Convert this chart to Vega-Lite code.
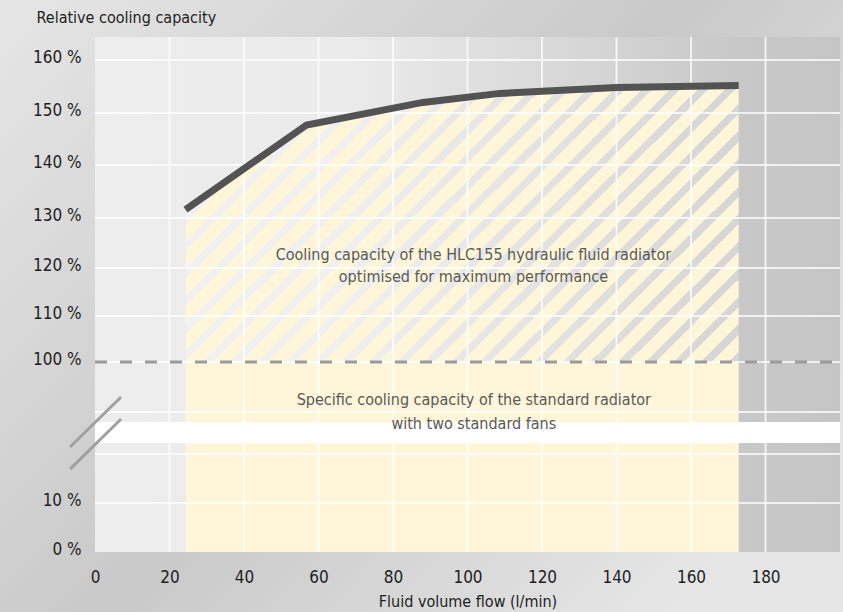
{
  "$schema": "https://vega.github.io/schema/vega-lite/v6.json",
  "autosize": {"type": "none"},
  "padding": {"left": 95, "top": 37, "right": 3, "bottom": 60},
  "width": 745,
  "height": 515,
  "config": {
    "background": "#d5d5d5",
    "view": {"stroke": null},
    "font": "Liberation Sans Narrow, DejaVu Sans Condensed, Roboto, sans-serif"
  },
  "datasets": {
    "curve": [
      {"flow": 24.3, "capacity": 131.6},
      {"flow": 56.8, "capacity": 147.7},
      {"flow": 88, "capacity": 152.0},
      {"flow": 108.7, "capacity": 153.7},
      {"flow": 140, "capacity": 154.8},
      {"flow": 172.8, "capacity": 155.2}
    ],
    "vgrid": [{"g": 20}, {"g": 40}, {"g": 60}, {"g": 80}, {"g": 100}, {"g": 120}, {"g": 140}, {"g": 160}, {"g": 180}],
    "hgrid": [{"g": 10}, {"g": 20}, {"g": 50}, {"g": 100}, {"g": 110}, {"g": 120}, {"g": 130}, {"g": 140}, {"g": 150}, {"g": 160}],
    "one": [{}]
  },
  "layer": [
    {
      "data": {"name": "one"},
      "mark": {"type": "rect", "color": {"gradient": "linear", "x1": 0, "y1": 0, "x2": 1, "y2": 0.7, "stops": [{"offset": 0, "color": "#e6e6e6"}, {"offset": 0.55, "color": "#c9c9c9"}, {"offset": 1, "color": "#e6e6e6"}]}},
      "encoding": {
        "x": {"datum": -25.6, "type": "quantitative"},
        "x2": {"datum": 201},
        "y": {"datum": -13, "type": "quantitative"},
        "y2": {"datum": 172}
      }
    },
    {
      "data": {"name": "one"},
      "mark": {"type": "rect", "color": {"gradient": "linear", "x1": 0, "y1": 0, "x2": 1, "y2": 0, "stops": [{"offset": 0, "color": "#ededed"}, {"offset": 0.34, "color": "#ebebeb"}, {"offset": 0.86, "color": "#c8c8c8"}, {"offset": 1, "color": "#c5c5c5"}]}},
      "encoding": {
        "x": {"datum": 0, "type": "quantitative"},
        "x2": {"datum": 200},
        "y": {"datum": 0, "type": "quantitative"},
        "y2": {"datum": 164.3}
      }
    },
    {
      "data": {"name": "curve"},
      "mark": {"type": "area", "color": "#fff5d8"},
      "encoding": {
        "x": {"field": "flow", "type": "quantitative"},
        "y": {"datum": 100, "type": "quantitative"},
        "y2": {"datum": 0}
      }
    },
    {
      "data": {"name": "curve"},
      "mark": {"type": "area", "color": {"gradient": "linear", "x1": 0, "y1": 0, "x2": 1.1997, "y2": 0.6026, "stops": [
        {"offset": 0, "color": "#fff5d8"}, {"offset": 0.021, "color": "#fff5d8"}, {"offset": 0.021, "color": "rgba(255,255,255,0.25)"}, {"offset": 0.0333, "color": "rgba(255,255,255,0.25)"},
        {"offset": 0.0333, "color": "#fff5d8"}, {"offset": 0.0543, "color": "#fff5d8"}, {"offset": 0.0543, "color": "rgba(255,255,255,0.25)"}, {"offset": 0.0667, "color": "rgba(255,255,255,0.25)"},
        {"offset": 0.0667, "color": "#fff5d8"}, {"offset": 0.0877, "color": "#fff5d8"}, {"offset": 0.0877, "color": "rgba(255,255,255,0.25)"}, {"offset": 0.1, "color": "rgba(255,255,255,0.25)"},
        {"offset": 0.1, "color": "#fff5d8"}, {"offset": 0.121, "color": "#fff5d8"}, {"offset": 0.121, "color": "rgba(255,255,255,0.25)"}, {"offset": 0.1333, "color": "rgba(255,255,255,0.25)"},
        {"offset": 0.1333, "color": "#fff5d8"}, {"offset": 0.1543, "color": "#fff5d8"}, {"offset": 0.1543, "color": "rgba(255,255,255,0.25)"}, {"offset": 0.1667, "color": "rgba(255,255,255,0.25)"},
        {"offset": 0.1667, "color": "#fff5d8"}, {"offset": 0.1877, "color": "#fff5d8"}, {"offset": 0.1877, "color": "rgba(255,255,255,0.25)"}, {"offset": 0.2, "color": "rgba(255,255,255,0.25)"},
        {"offset": 0.2, "color": "#fff5d8"}, {"offset": 0.221, "color": "#fff5d8"}, {"offset": 0.221, "color": "rgba(255,255,255,0.25)"}, {"offset": 0.2333, "color": "rgba(255,255,255,0.25)"},
        {"offset": 0.2333, "color": "#fff5d8"}, {"offset": 0.2543, "color": "#fff5d8"}, {"offset": 0.2543, "color": "rgba(255,255,255,0.25)"}, {"offset": 0.2667, "color": "rgba(255,255,255,0.25)"},
        {"offset": 0.2667, "color": "#fff5d8"}, {"offset": 0.2877, "color": "#fff5d8"}, {"offset": 0.2877, "color": "rgba(255,255,255,0.25)"}, {"offset": 0.3, "color": "rgba(255,255,255,0.25)"},
        {"offset": 0.3, "color": "#fff5d8"}, {"offset": 0.321, "color": "#fff5d8"}, {"offset": 0.321, "color": "rgba(255,255,255,0.25)"}, {"offset": 0.3333, "color": "rgba(255,255,255,0.25)"},
        {"offset": 0.3333, "color": "#fff5d8"}, {"offset": 0.3543, "color": "#fff5d8"}, {"offset": 0.3543, "color": "rgba(255,255,255,0.25)"}, {"offset": 0.3667, "color": "rgba(255,255,255,0.25)"},
        {"offset": 0.3667, "color": "#fff5d8"}, {"offset": 0.3877, "color": "#fff5d8"}, {"offset": 0.3877, "color": "rgba(255,255,255,0.25)"}, {"offset": 0.4, "color": "rgba(255,255,255,0.25)"},
        {"offset": 0.4, "color": "#fff5d8"}, {"offset": 0.421, "color": "#fff5d8"}, {"offset": 0.421, "color": "rgba(255,255,255,0.25)"}, {"offset": 0.4333, "color": "rgba(255,255,255,0.25)"},
        {"offset": 0.4333, "color": "#fff5d8"}, {"offset": 0.4543, "color": "#fff5d8"}, {"offset": 0.4543, "color": "rgba(255,255,255,0.25)"}, {"offset": 0.4667, "color": "rgba(255,255,255,0.25)"},
        {"offset": 0.4667, "color": "#fff5d8"}, {"offset": 0.4877, "color": "#fff5d8"}, {"offset": 0.4877, "color": "rgba(255,255,255,0.25)"}, {"offset": 0.5, "color": "rgba(255,255,255,0.25)"},
        {"offset": 0.5, "color": "#fff5d8"}, {"offset": 0.521, "color": "#fff5d8"}, {"offset": 0.521, "color": "rgba(255,255,255,0.25)"}, {"offset": 0.5333, "color": "rgba(255,255,255,0.25)"},
        {"offset": 0.5333, "color": "#fff5d8"}, {"offset": 0.5543, "color": "#fff5d8"}, {"offset": 0.5543, "color": "rgba(255,255,255,0.25)"}, {"offset": 0.5667, "color": "rgba(255,255,255,0.25)"},
        {"offset": 0.5667, "color": "#fff5d8"}, {"offset": 0.5877, "color": "#fff5d8"}, {"offset": 0.5877, "color": "rgba(255,255,255,0.25)"}, {"offset": 0.6, "color": "rgba(255,255,255,0.25)"},
        {"offset": 0.6, "color": "#fff5d8"}, {"offset": 0.621, "color": "#fff5d8"}, {"offset": 0.621, "color": "rgba(255,255,255,0.25)"}, {"offset": 0.6333, "color": "rgba(255,255,255,0.25)"},
        {"offset": 0.6333, "color": "#fff5d8"}, {"offset": 0.6543, "color": "#fff5d8"}, {"offset": 0.6543, "color": "rgba(255,255,255,0.25)"}, {"offset": 0.6667, "color": "rgba(255,255,255,0.25)"},
        {"offset": 0.6667, "color": "#fff5d8"}, {"offset": 0.6877, "color": "#fff5d8"}, {"offset": 0.6877, "color": "rgba(255,255,255,0.25)"}, {"offset": 0.7, "color": "rgba(255,255,255,0.25)"},
        {"offset": 0.7, "color": "#fff5d8"}, {"offset": 0.721, "color": "#fff5d8"}, {"offset": 0.721, "color": "rgba(255,255,255,0.25)"}, {"offset": 0.7333, "color": "rgba(255,255,255,0.25)"},
        {"offset": 0.7333, "color": "#fff5d8"}, {"offset": 0.7543, "color": "#fff5d8"}, {"offset": 0.7543, "color": "rgba(255,255,255,0.25)"}, {"offset": 0.7667, "color": "rgba(255,255,255,0.25)"},
        {"offset": 0.7667, "color": "#fff5d8"}, {"offset": 0.7877, "color": "#fff5d8"}, {"offset": 0.7877, "color": "rgba(255,255,255,0.25)"}, {"offset": 0.8, "color": "rgba(255,255,255,0.25)"},
        {"offset": 0.8, "color": "#fff5d8"}, {"offset": 0.821, "color": "#fff5d8"}, {"offset": 0.821, "color": "rgba(255,255,255,0.25)"}, {"offset": 0.8333, "color": "rgba(255,255,255,0.25)"},
        {"offset": 0.8333, "color": "#fff5d8"}, {"offset": 0.8543, "color": "#fff5d8"}, {"offset": 0.8543, "color": "rgba(255,255,255,0.25)"}, {"offset": 0.8667, "color": "rgba(255,255,255,0.25)"},
        {"offset": 0.8667, "color": "#fff5d8"}, {"offset": 0.8877, "color": "#fff5d8"}, {"offset": 0.8877, "color": "rgba(255,255,255,0.25)"}, {"offset": 0.9, "color": "rgba(255,255,255,0.25)"},
        {"offset": 0.9, "color": "#fff5d8"}, {"offset": 0.921, "color": "#fff5d8"}, {"offset": 0.921, "color": "rgba(255,255,255,0.25)"}, {"offset": 0.9333, "color": "rgba(255,255,255,0.25)"},
        {"offset": 0.9333, "color": "#fff5d8"}, {"offset": 0.9543, "color": "#fff5d8"}, {"offset": 0.9543, "color": "rgba(255,255,255,0.25)"}, {"offset": 0.9667, "color": "rgba(255,255,255,0.25)"},
        {"offset": 0.9667, "color": "#fff5d8"}, {"offset": 0.9877, "color": "#fff5d8"}, {"offset": 0.9877, "color": "rgba(255,255,255,0.25)"}, {"offset": 1, "color": "rgba(255,255,255,0.25)"}
      ]}},
      "encoding": {
        "x": {"field": "flow", "type": "quantitative"},
        "y": {"field": "capacity", "type": "quantitative"},
        "y2": {"datum": 100}
      }
    },
    {
      "data": {"name": "vgrid"},
      "mark": {"type": "rule", "color": "#ffffff", "strokeWidth": 2, "opacity": 0.75},
      "encoding": {
        "x": {"field": "g", "type": "quantitative"},
        "y": {"datum": 0, "type": "quantitative"},
        "y2": {"datum": 164.3}
      }
    },
    {
      "data": {"name": "hgrid"},
      "mark": {"type": "rule", "color": "#ffffff", "strokeWidth": 2, "opacity": 0.75},
      "encoding": {
        "x": {"datum": 0, "type": "quantitative"},
        "x2": {"datum": 200},
        "y": {"field": "g", "type": "quantitative"}
      }
    },
    {
      "data": {"name": "one"},
      "mark": {"type": "rect", "color": "#ffffff"},
      "encoding": {
        "x": {"datum": 0, "type": "quantitative"},
        "x2": {"datum": 200},
        "y": {"datum": 30, "type": "quantitative"},
        "y2": {"datum": 40}
      }
    },
    {
      "data": {"name": "one"},
      "mark": {"type": "rule", "color": "#9b9b9b", "strokeWidth": 3, "strokeDash": [12, 13]},
      "encoding": {
        "x": {"datum": 0, "type": "quantitative"},
        "x2": {"datum": 200},
        "y": {"datum": 100, "type": "quantitative"}
      }
    },
    {
      "data": {"name": "one"},
      "mark": {"type": "rule", "color": "#a0a0a0", "strokeWidth": 3},
      "encoding": {
        "x": {"datum": -6.7, "type": "quantitative"},
        "x2": {"datum": 7},
        "y": {"datum": 26.4, "type": "quantitative"},
        "y2": {"datum": 65}
      }
    },
    {
      "data": {"name": "one"},
      "mark": {"type": "rule", "color": "#a0a0a0", "strokeWidth": 3},
      "encoding": {
        "x": {"datum": -6.7, "type": "quantitative"},
        "x2": {"datum": 7},
        "y": {"datum": 16.9, "type": "quantitative"},
        "y2": {"datum": 43}
      }
    },
    {
      "data": {"name": "curve"},
      "mark": {"type": "line", "color": "#535353", "strokeWidth": 7, "strokeJoin": "miter"},
      "encoding": {
        "x": {
          "field": "flow", "type": "quantitative",
          "scale": {"domain": [0, 200], "nice": false, "zero": false},
          "axis": {
            "values": [0, 20, 40, 60, 80, 100, 120, 140, 160, 180],
            "grid": false, "domain": false, "ticks": false, "zindex": 1, "labelFlush": false,
            "labelPadding": 17, "labelFontSize": 17, "labelColor": "#1e1e1e",
            "title": "Fluid volume flow (l/min)", "titleFontSize": 16, "titleFontWeight": "normal",
            "titleColor": "#1e1e1e", "titlePadding": 8
          }
        },
        "y": {
          "field": "capacity", "type": "quantitative",
          "scale": {
            "domain": [0, 10, 20, 30, 40, 50, 100, 110, 120, 130, 140, 150, 160, 164.3],
            "range": [515, 466, 417, 406, 385, 375, 325, 279, 231, 181, 128, 76, 23, 0],
            "nice": false, "zero": false
          },
          "axis": {
            "values": [0, 10, 100, 110, 120, 130, 140, 150, 160],
            "labelExpr": "datum.value + ' %'",
            "grid": false, "domain": false, "ticks": false, "zindex": 1, "labelFlush": false,
            "labelPadding": 14, "labelFontSize": 17, "labelColor": "#1e1e1e",
            "labelOverlap": false, "labelOffset": -3,
            "title": "Relative cooling capacity", "titleAngle": 0, "titleAlign": "left",
            "titleBaseline": "middle", "titleX": -59, "titleY": -20,
            "titleFontSize": 16, "titleFontWeight": "normal", "titleColor": "#1e1e1e"
          }
        }
      }
    },
    {
      "data": {"name": "one"},
      "mark": {"type": "text", "text": ["Cooling capacity of the HLC155 hydraulic fluid radiator", "optimised for maximum performance"], "fontSize": 16, "lineHeight": 22, "color": "#595959", "align": "center", "baseline": "middle"},
      "encoding": {
        "x": {"datum": 101.6, "type": "quantitative"},
        "y": {"datum": 122.6, "type": "quantitative"}
      }
    },
    {
      "data": {"name": "one"},
      "mark": {"type": "text", "text": ["Specific cooling capacity of the standard radiator", "with two standard fans"], "fontSize": 16, "lineHeight": 24, "color": "#595959", "align": "center", "baseline": "middle"},
      "encoding": {
        "x": {"datum": 101.7, "type": "quantitative"},
        "y": {"datum": 62, "type": "quantitative"}
      }
    }
  ]
}
